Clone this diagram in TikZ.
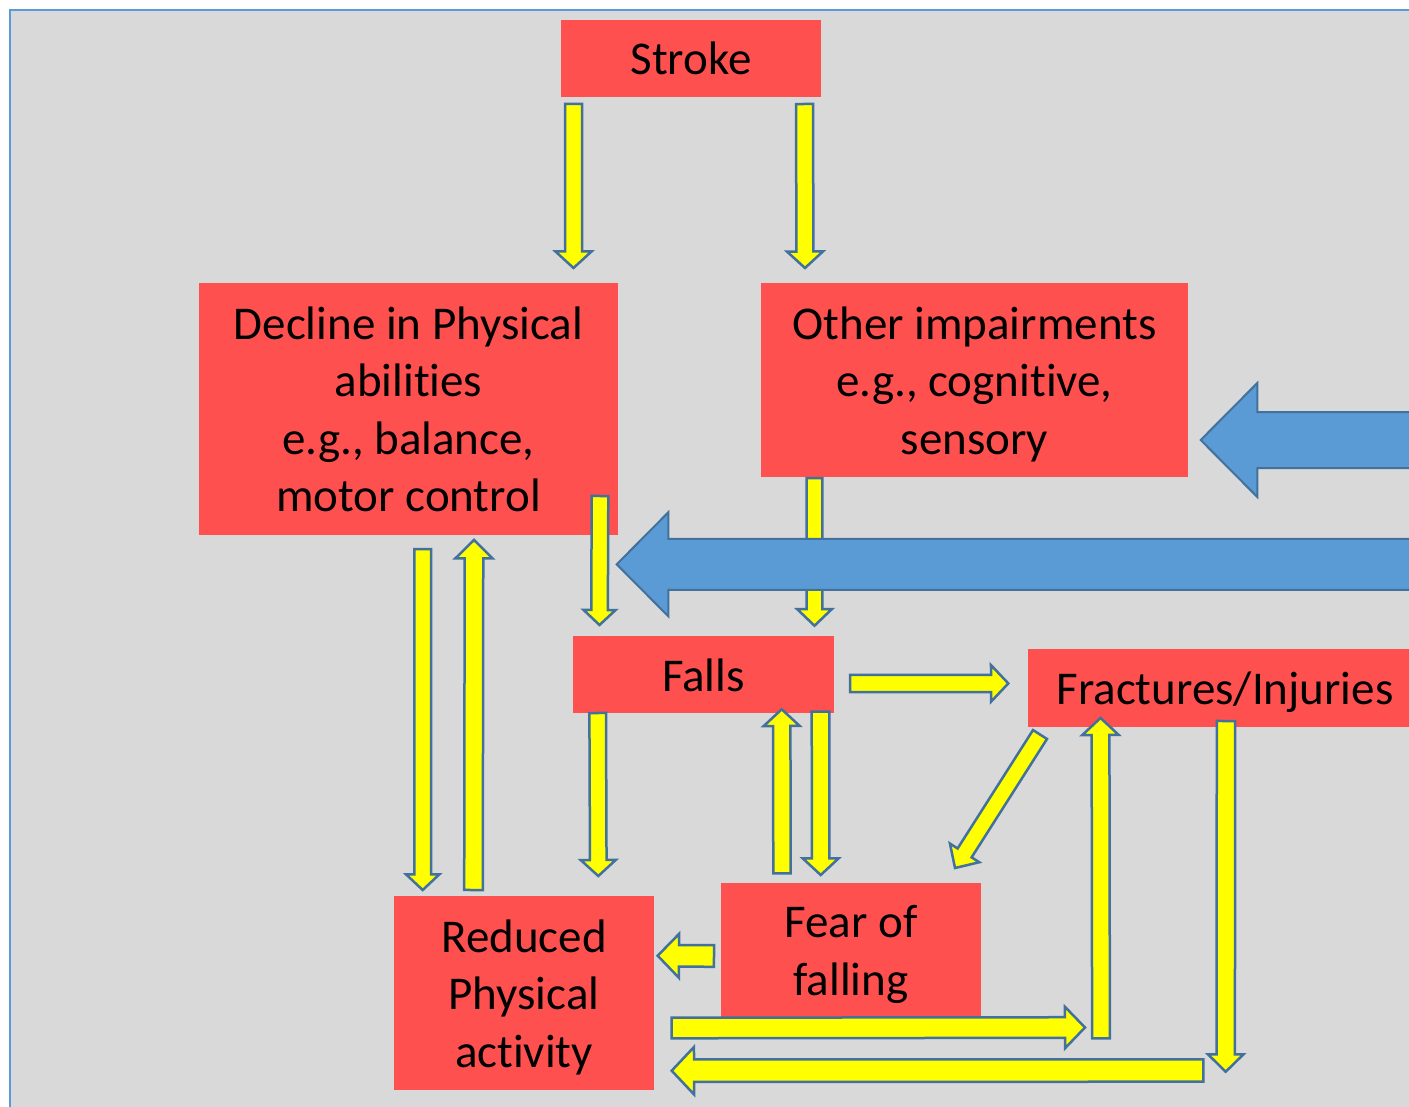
\documentclass[tikz,border=0pt]{standalone}
\usepackage{fontspec}
\setmainfont{Carlito}[Ligatures={NoCommon}]
\usetikzlibrary{calc}
\definecolor{boxred}{HTML}{FF5050}
\definecolor{ylw}{HTML}{FFFF00}
\definecolor{edgeblue}{HTML}{41719C}
\definecolor{bluefill}{HTML}{5B9BD5}
\definecolor{bggray}{HTML}{D9D9D9}
% #1 style, #2 start, #3 tip, #4 half shaft, #5 half head, #6 head length
\newcommand{\blockarrow}[6]{%
  \path ($(#3)!#6!(#2)$) coordinate (hb);
  \draw[#1] ($(#2)!#4!90:(#3)$) -- ($(hb)!#4!90:(#3)$) -- ($(hb)!#5!90:(#3)$) -- (#3)
    -- ($(hb)!#5!-90:(#3)$) -- ($(hb)!#4!-90:(#3)$) -- ($(#2)!#4!-90:(#3)$) -- cycle;
}
\newcommand{\lnfirst}{\rule[-17.25pt]{0pt}{67.5pt}}
\newcommand{\lnst}{\rule[-17.25pt]{0pt}{57.5pt}}
\tikzset{
  box/.style={fill=boxred, draw=none, inner sep=0pt, align=center,
    font=\fontsize{47}{57.5}\selectfont},
  yarrow/.style={fill=ylw, draw=edgeblue, line width=2.5pt, line join=miter},
  barrow/.style={fill=bluefill, draw=edgeblue, line width=2pt, line join=miter},
}
\begin{document}
\begin{tikzpicture}[x=1pt,y=-1pt]
\clip (0,0) rectangle (1409,1107);
\fill[white] (0,0) rectangle (1409,1107);
\fill[bggray] (10,10) rectangle (1430,1130);
\draw[bluefill, line width=2pt] (10,1130) -- (10,10) -- (1430,10);

% boxes
\node[box, minimum width=260pt, minimum height=77pt] (stroke) at (691,58.5) {\lnfirst Stroke};
\node[box, minimum width=419pt, minimum height=252pt] (decline) at (408.5,409) {\lnfirst Decline in Physical\\\lnst abilities\\\lnst e.g., balance,\\\lnst motor control};
\node[box, minimum width=427pt, minimum height=194pt] (other) at (974.5,380) {\lnfirst Other impairments\\\lnst e.g., cognitive,\\\lnst sensory};
\node[box, minimum width=261pt, minimum height=77pt] (falls) at (703.5,674.5) {\lnfirst Falls};
\node[box, minimum width=394pt, minimum height=78pt] (fract) at (1225,688) {\lnfirst Fractures/Injuries};
\node[box, minimum width=260pt, minimum height=134pt] (fear) at (851,950) {\lnfirst Fear of\\\lnst falling};
\node[box, minimum width=260pt, minimum height=194pt] (reduced) at (524,993) {\lnfirst Reduced\\\lnst Physical\\\lnst activity};

% arrow end points
\coordinate (s1) at (573.5,104);  \coordinate (t1) at (573.5,268);
\coordinate (s2) at (804.5,104);  \coordinate (t2) at (805,268);
\coordinate (s3) at (600,496);    \coordinate (t3) at (599.5,625);
\coordinate (s4) at (814.5,478);  \coordinate (t4) at (814.5,625.7);
\coordinate (s5) at (422.7,549);  \coordinate (t5) at (422.7,890);
\coordinate (s6) at (473.5,890);  \coordinate (t6) at (474,540);
\coordinate (s7) at (597.7,713);  \coordinate (t7) at (598.3,876);
\coordinate (s8) at (782,873.3);  \coordinate (t8) at (781.7,709.3);
\coordinate (s9) at (820.5,711.7); \coordinate (t9) at (820.7,875);
\coordinate (s10) at (850,683.5); \coordinate (t10) at (1008.3,683.4);
\coordinate (s11) at (1040,734.5); \coordinate (t11) at (955,868);
\coordinate (s12) at (671.7,1028); \coordinate (t12) at (1085,1027.5);
\coordinate (s13) at (1101,1038.3); \coordinate (t13) at (1100.5,718);
\coordinate (s14) at (1226,721);  \coordinate (t14) at (1225.7,1071.7);
\coordinate (s15) at (1203.3,1070.5); \coordinate (t15) at (671.7,1070.7);
\coordinate (s16) at (714,956);   \coordinate (t16) at (657.7,955.7);
\coordinate (sb1) at (1430,440);  \coordinate (tb1) at (1200.7,440);
\coordinate (sb2) at (1430,564.3); \coordinate (tb2) at (616.7,564.3);

% yellow arrows
\blockarrow{yarrow}{s1}{t1}{8.5pt}{18pt}{16.5pt}
\blockarrow{yarrow}{s2}{t2}{8.5pt}{18pt}{16.5pt}
\blockarrow{yarrow}{s3}{t3}{8.3pt}{16pt}{15pt}
\blockarrow{yarrow}{s4}{t4}{7.8pt}{17.5pt}{16.7pt}
\blockarrow{yarrow}{s5}{t5}{8.3pt}{16.7pt}{15.7pt}
\blockarrow{yarrow}{s6}{t6}{9.3pt}{18.5pt}{18.3pt}
\blockarrow{yarrow}{s7}{t7}{8.3pt}{17.5pt}{16pt}
\blockarrow{yarrow}{s8}{t8}{8.7pt}{18pt}{16.7pt}
\blockarrow{yarrow}{s9}{t9}{8.8pt}{18pt}{16.7pt}
\blockarrow{yarrow}{s10}{t10}{8.6pt}{18.3pt}{17.3pt}
\blockarrow{yarrow}{s11}{t11}{8.3pt}{17.4pt}{17.9pt}
\blockarrow{yarrow}{s12}{t12}{10.3pt}{20.7pt}{20pt}
\blockarrow{yarrow}{s13}{t13}{8.9pt}{18.2pt}{17pt}
\blockarrow{yarrow}{s14}{t14}{9.2pt}{17.8pt}{17.4pt}
\blockarrow{yarrow}{s15}{t15}{11.2pt}{23.7pt}{22.3pt}
\blockarrow{yarrow}{s16}{t16}{10.8pt}{22pt}{21.3pt}

% blue arrows
\blockarrow{barrow}{sb1}{tb1}{28pt}{57pt}{56.6pt}
\blockarrow{barrow}{sb2}{tb2}{25.5pt}{52pt}{51.6pt}
\end{tikzpicture}
\end{document}
